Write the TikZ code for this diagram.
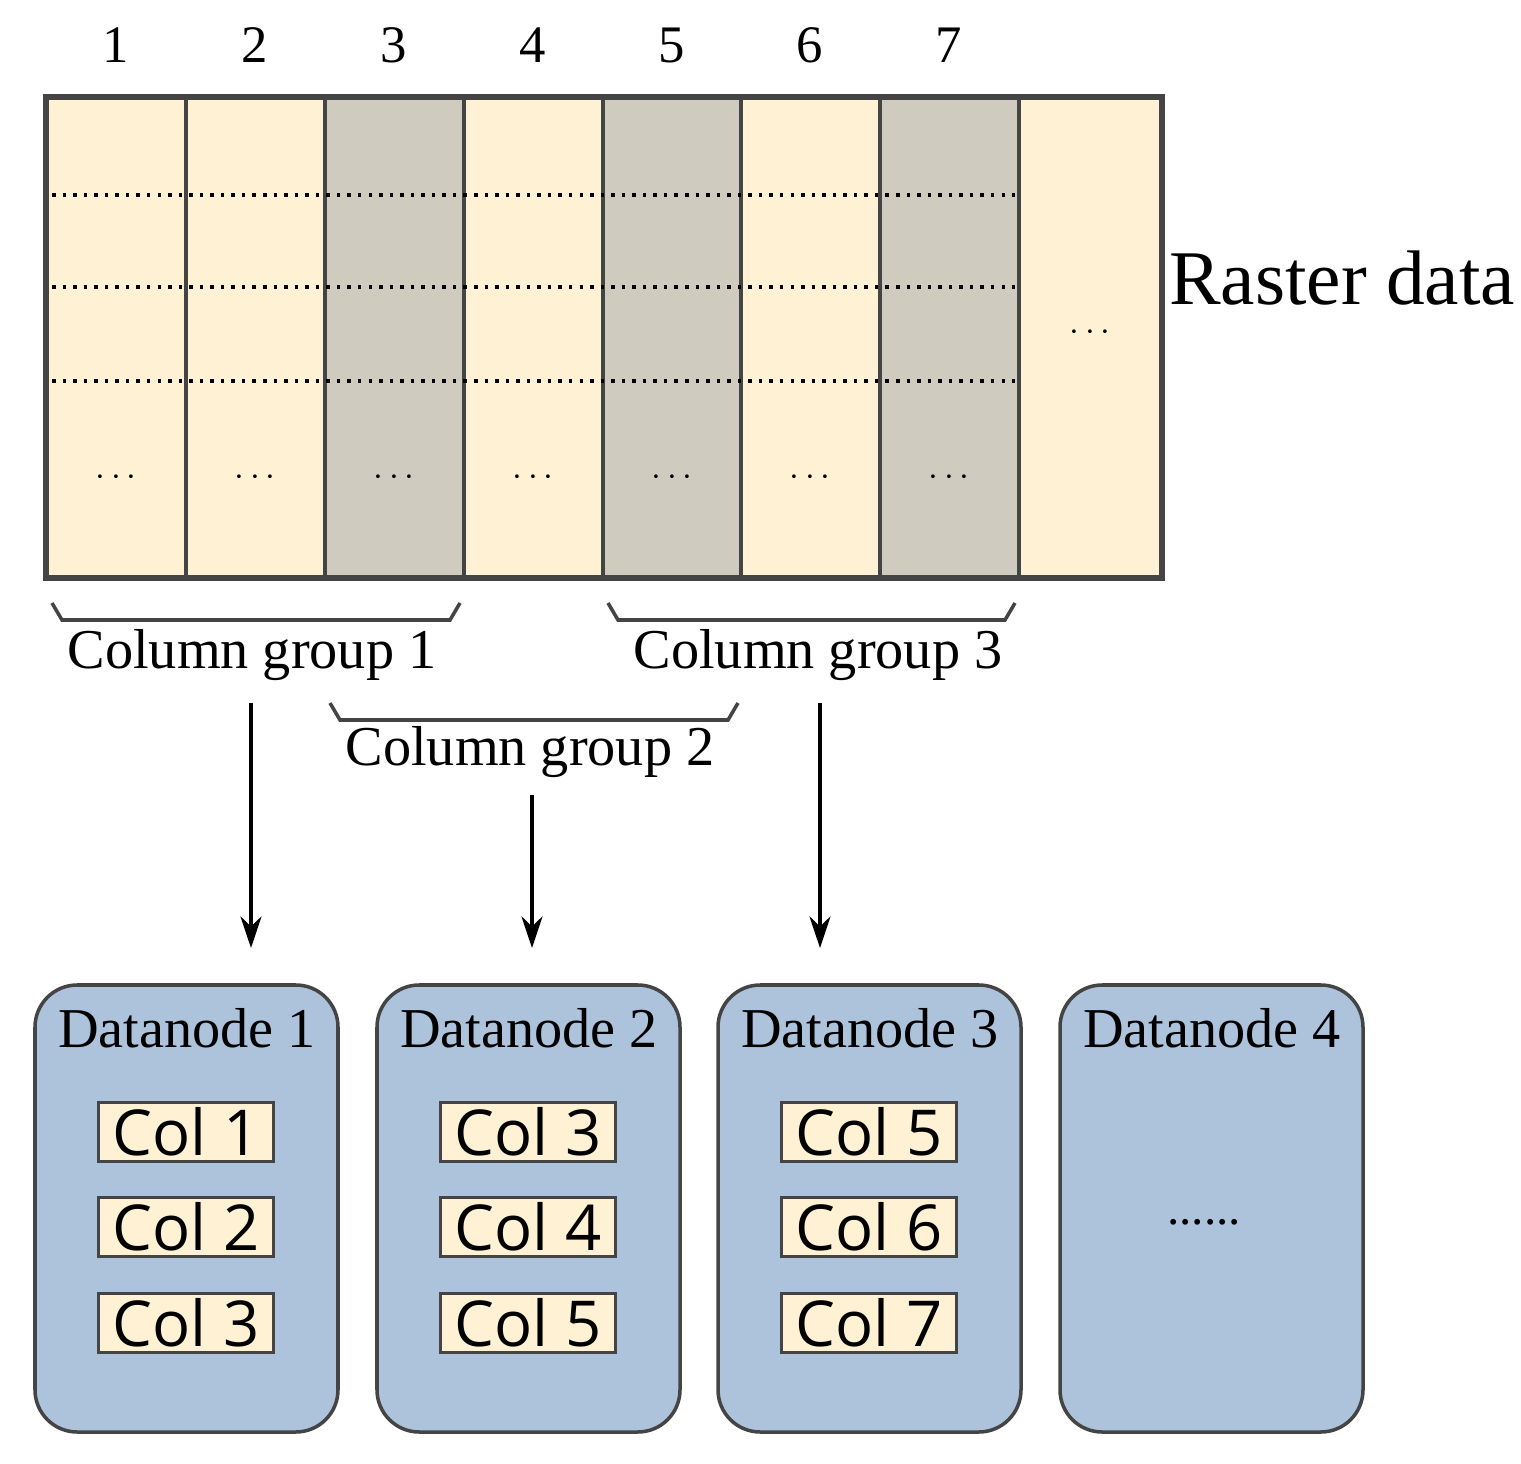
\documentclass[tikz,border=0pt]{standalone}
\usepackage{fontspec}
\setmainfont{Liberation Serif}
\newfontfamily\colfont{Open Sans}
\usetikzlibrary{arrows.meta}
\definecolor{cream}{HTML}{FFF2D4}
\definecolor{grayc}{HTML}{CFCBBF}
\definecolor{nodeblue}{HTML}{ADC3DC}
\definecolor{edge}{HTML}{444444}
\begin{document}
\begin{tikzpicture}[x=0.01cm,y=-0.01cm,
  col/.style={draw=edge,line width=1pt},
  dn/.style={draw=edge,line width=1pt,fill=nodeblue,rounded corners=12pt},
  cbox/.style={draw=edge,line width=0.8pt,fill=cream,minimum width=1.75cm,minimum height=0.59cm,inner sep=0pt,font=\colfont\fontsize{18}{18}\selectfont},
  lab/.style={font=\fontsize{16}{16}\selectfont},
  brace/.style={line width=1pt,edge},
  arr/.style={-{Stealth[length=9pt,width=6pt]},line width=1pt}]
\useasboundingbox (0,0) rectangle (1521,1464);
% columns
\foreach \a/\b/\c [count=\i] in {46/186/cream,186/325/cream,325/464/grayc,464/603/cream,603/741/grayc,741/880/cream,880/1019/grayc,1019/1162/cream}{
  \fill[\c] (\a,97) rectangle (\b,578);
}
\foreach \x in {186,325,464,603,741,880,1019} \draw[col] (\x,97) -- (\x,578);
\draw[line width=1.5pt,edge] (46,97) rectangle (1162,578);
\foreach \y in {195,287,381} \draw[dotted,line width=1pt] (52,\y) -- (1015,\y);
\foreach \x [count=\i] in {116,255,394,533,672,810,949}{
  \node[font=\fontsize{15}{15}\selectfont] (n\i) at (\x,45) {\i};
  \node (d\i) at (\x,478) {$\cdots$};
}
\node (d8) at (1090,333) {$\cdots$};
\node[font=\fontsize{22}{22}\selectfont] (raster) at (1342,278) {Raster data};
% braces
\draw[brace] (52,603) -- (62,620) -- (450,620) -- (460,603);
\draw[brace] (608,603) -- (618,620) -- (1005,620) -- (1015,603);
\draw[brace] (330,703) -- (340,720) -- (728,720) -- (738,703);
\node[lab] (g1) at (252,655) {Column group 1};
\node[lab] (g3) at (818,655) {Column group 3};
\node[lab] (g2) at (530,752) {Column group 2};
\coordinate (a1) at (251,703); \coordinate (a2) at (532,795); \coordinate (a3) at (820,703);
\coordinate (b1) at (251,948); \coordinate (b2) at (532,948); \coordinate (b3) at (820,948);
\draw[arr] (a1) -- (b1); \draw[arr] (a2) -- (b2); \draw[arr] (a3) -- (b3);
% datanodes
\foreach \x [count=\i] in {35,377,718,1060}{
  \draw[dn] (\x,985) rectangle (\x+303,1432);
  \node[lab] (t\i) at (\x+152,1028) {Datanode \i};
}
\foreach \x/\a/\b/\c [count=\i] in {35/1/2/3,377/3/4/5,718/5/6/7}{
  \node[cbox] (c\i a) at (\x+151,1132) {Col \a};
  \node[cbox] (c\i b) at (\x+151,1227) {Col \b};
  \node[cbox] (c\i c) at (\x+151,1323) {Col \c};
}
\node[font=\fontsize{14}{14}\selectfont] (dots4) at (1204,1222) {......};
\end{tikzpicture}
\end{document}
